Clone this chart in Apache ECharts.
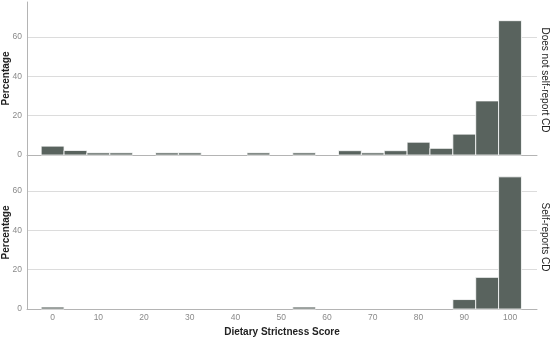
<!DOCTYPE html>
<html>
<head>
<meta charset="utf-8">
<script src="https://cdn.jsdelivr.net/npm/echarts@6/dist/echarts.min.js"></script>
<style>html,body{margin:0;padding:0;background:#fff;}#c{width:550px;height:338px;}</style>
</head>
<body>
<div id="c"></div>
<script>
const binCenters = [0,5,10,15,20,25,30,35,40,45,50,55,60,65,70,75,80,85,90,95,100];
const notSelfReport = [4.5,2.3,1.1,1.1,0,1.1,1.1,0,0,1.1,0,1.1,0,2.2,1.1,2.2,6.5,3.4,10.6,27.5,68.3];
const selfReports = [1.0,0,0,0,0,0,0,0,0,0,0,1.0,0,0,0,0,0,0,4.8,16.1,67.2];
const xTickLabels = [0,10,20,30,40,50,60,70,80,90,100];
const yTickLabels = [0,20,40,60];
const panelNames = ['Does not self-report CD', 'Self-reports CD'];
const binWidth = 5;

const FONT = '"Liberation Sans", Arial, sans-serif';
const chart = echarts.init(document.getElementById('c'), null, {renderer: 'canvas'});

function renderBar(params, api) {
  const c = api.value(0), v = api.value(1);
  if (!v) return null;
  const p0 = api.coord([c - binWidth / 2, v]);
  const p1 = api.coord([c + binWidth / 2, 0]);
  return {
    type: 'rect',
    shape: {x: p0[0], y: p0[1], width: p1[0] - p0[0], height: p1[1] - p0[1]},
    style: {fill: '#59635e', stroke: '#ffffff', lineWidth: 0.8}
  };
}

function xAxisCfg(idx, showLabels) {
  return {
    type: 'value', gridIndex: idx, min: -5.6, max: 105.9,
    axisLine: {show: true, onZero: false, lineStyle: {color: '#b4b4b4', width: 1}},
    axisTick: {show: false},
    splitLine: {show: false},
    axisLabel: {show: showLabels, customValues: xTickLabels, color: '#8a8a8a', fontFamily: FONT, fontSize: 8.5, margin: 4},
    name: showLabels ? 'Dietary Strictness Score' : '',
    nameLocation: 'middle', nameGap: 18, nameMoveOverlap: false,
    nameTextStyle: {fontFamily: FONT, fontSize: 10, fontWeight: 'bold', color: '#222'}
  };
}
function yAxisCfg(idx) {
  return {
    type: 'value', gridIndex: idx, min: 0, max: 77.8,
    axisLine: {show: true, onZero: false, lineStyle: {color: '#b4b4b4', width: 1}},
    axisTick: {show: false, customValues: yTickLabels},
    splitLine: {show: true, lineStyle: {color: '#dcdcdc', width: 1}},
    axisLabel: {customValues: yTickLabels, color: '#8a8a8a', fontFamily: FONT, fontSize: 8.5, margin: 5},
    name: 'Percentage', nameLocation: 'middle', nameGap: 16, nameRotate: 90, nameMoveOverlap: false,
    nameTextStyle: {fontFamily: FONT, fontSize: 10, fontWeight: 'bold', color: '#222'}
  };
}

chart.setOption({
  animation: false,
  grid: [
    {left: 27, top: 2, width: 510, height: 153, outerBoundsMode: 'none', containLabel: false},
    {left: 27, top: 156, width: 510, height: 153, outerBoundsMode: 'none', containLabel: false}
  ],
  xAxis: [xAxisCfg(0, false), xAxisCfg(1, true)],
  yAxis: [yAxisCfg(0), yAxisCfg(1)],
  series: [
    {type: 'custom', xAxisIndex: 0, yAxisIndex: 0, renderItem: renderBar,
     data: binCenters.map((c, i) => [c, notSelfReport[i]])},
    {type: 'custom', xAxisIndex: 1, yAxisIndex: 1, renderItem: renderBar,
     data: binCenters.map((c, i) => [c, selfReports[i]])}
  ],
  graphic: [
    {type: 'text', x: 545, y: 80, rotation: -Math.PI / 2,
     style: {text: panelNames[0], fontFamily: FONT, fontSize: 10, fill: '#222', align: 'center', verticalAlign: 'middle'}},
    {type: 'text', x: 545, y: 237, rotation: -Math.PI / 2,
     style: {text: panelNames[1], fontFamily: FONT, fontSize: 10, fill: '#222', align: 'center', verticalAlign: 'middle'}}
  ]
});
</script>
</body>
</html>
